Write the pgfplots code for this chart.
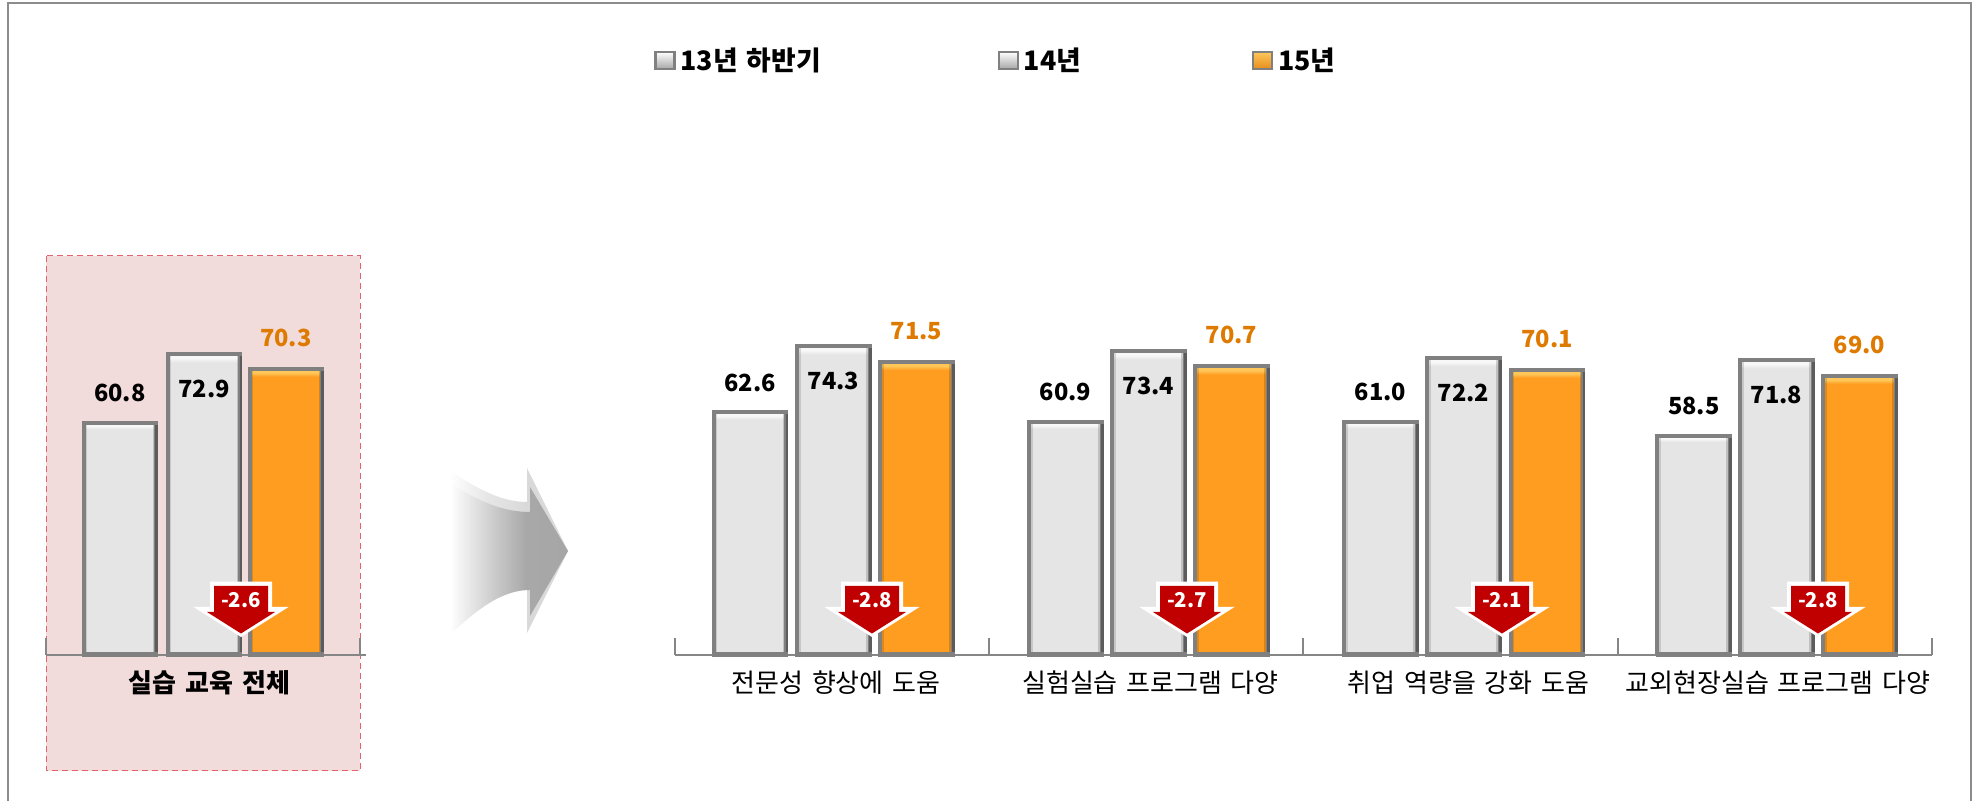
\documentclass[border=0pt]{standalone}
\usepackage{pgfplots}
\pgfplotsset{compat=1.18}
\usepackage{fontspec}
\setmainfont[WordSpace=1.5]{Noto Sans CJK KR}
\definecolor{edge}{HTML}{808080}
\definecolor{axgray}{HTML}{868686}
\definecolor{barlight}{HTML}{E5E5E5}
\definecolor{barlighttop}{HTML}{F8F8F8}
\definecolor{barorange}{HTML}{FF9D21}
\definecolor{barorangetop}{HTML}{FFC75A}
\definecolor{pinkbg}{HTML}{F2DCDB}
\definecolor{pinkedge}{HTML}{E2636E}
\definecolor{labelorange}{HTML}{DF7A00}
\definecolor{arrowred}{HTML}{C00000}
\definecolor{fA}{HTML}{C8C8C8}
\definecolor{fB}{HTML}{A8A8A8}
\definecolor{fC}{HTML}{A6A6A6}
\definecolor{rA}{HTML}{E6E6E6}
\definecolor{rB}{HTML}{D9D9D9}
\pgfdeclareverticalshading{greybar}{100bp}{color(0bp)=(barlight); color(73.6bp)=(barlight); color(74.3bp)=(barlighttop); color(75bp)=(barlighttop); color(100bp)=(barlighttop)}
\pgfdeclareverticalshading{orangebar}{100bp}{color(0bp)=(barorange); color(73.6bp)=(barorange); color(74.3bp)=(barorangetop); color(75bp)=(barorangetop); color(100bp)=(barorangetop)}
\pgfdeclarehorizontalshading{fadein}{100bp}{color(0bp)=(white); color(27bp)=(white); color(46bp)=(fA); color(58bp)=(fB); color(75bp)=(fC); color(100bp)=(fC)}
\pgfdeclarehorizontalshading{faderim}{100bp}{color(0bp)=(white); color(27bp)=(white); color(42bp)=(rA); color(58bp)=(rB); color(100bp)=(rB)}
% one bar: x position, value, shading, label colour, label shift
\newcommand{\onebar}[5]{%
  \addplot[ybar, bar shift=0pt, bar width=36.25pt, draw=edge, line width=2pt, shade, shading=#3,
    nodes near coords, point meta=y,
    nodes near coords style={font=\bfseries\fontsize{11.8}{14}\selectfont, text=#4, anchor=center, yshift=#5,
      /pgf/number format/.cd, fixed, fixed zerofill, precision=1, assume math mode=true}]
    coordinates {(#1,#2)};
  \draw[black, opacity=.13, line width=.8pt] ([xshift=-16.75pt]axis cs:#1,20) -- ([xshift=-16.75pt,yshift=-1pt]axis cs:#1,#2);
  \draw[black, opacity=.16, line width=.8pt] ([xshift=16.75pt]axis cs:#1,20) -- ([xshift=16.75pt,yshift=-1pt]axis cs:#1,#2);
  \draw[black, opacity=.28, line width=1.2pt] ([xshift=18.4pt]axis cs:#1,20) -- ([xshift=18.4pt,yshift=-1pt]axis cs:#1,#2);
  \draw[edge, line width=2.5pt] ([xshift=-19.1pt]axis cs:#1,20) -- ([xshift=19.1pt]axis cs:#1,20);
}
\newcommand{\dropmark}[2]{%
  \fill[white] (#1-31,581.7) -- (#1+31,581.7) -- (#1+31,607) -- (#1+47.5,607) -- (#1,637) -- (#1-47.5,607) -- (#1-31,607) -- cycle;
  \fill[arrowred] (#1-27,586) -- (#1+27,586) -- (#1+27,612) -- (#1+34,612) -- (#1,633.5) -- (#1-34,612) -- (#1-27,612) -- cycle;
  \node[text=white, font=\bfseries\fontsize{10.2}{12}\selectfont, inner sep=0pt] at (#1,600) {#2};
}
\newcommand{\swatch}[3]{%
  \draw[edge, line width=1.4pt, shade, top color=#2, bottom color=#3] (#1,52) rectangle ++(19,17);
}
\pgfplotsset{chartaxis/.style={
  scale only axis, height=277.35pt, ymin=20, ymax=117.55,
  anchor=south west, clip mode=individual,
  axis y line=none, axis x line*=bottom,
  x axis line style={draw=axgray, line width=1pt, -},
  tick align=inside, major tick length=0pt,
  tick style={draw=axgray, line width=1pt},
  extra x tick style={major tick length=8.5pt, xticklabels={}, tick style={draw=axgray, line width=1pt}},
  xticklabel style={anchor=center, yshift=-14pt, font=\fontsize{13}{15}\selectfont, text=black},
}}
\begin{document}
\begin{tikzpicture}
\begin{scope}[x=0.5pt, y=-0.5pt]
\useasboundingbox (0,0) rectangle (1977,801);
% frame
\draw[color=gray!90, line width=1pt] (8,801) -- (8,3) -- (1971,3) -- (1971,801);
% highlighted panel
\draw[fill=pinkbg, draw=pinkedge, line width=0.5pt, densely dashed] (46.3,256) rectangle (360,770.7);
% big arrow
\shade[shading=faderim] (445,467) .. controls (480,492) and (505,502) .. (527,502) -- (527,468) -- (568,551) -- (527,633) -- (527,586) .. controls (505,586) and (480,600) .. (445,636) -- cycle;
\shade[shading=fadein] (445,480) .. controls (480,503) and (505,512) .. (530,512) -- (530,487) -- (568,551) -- (530,616) -- (530,590) .. controls (505,590) and (480,605) .. (445,640) -- cycle;
% legend
\swatch{655.5}{white}{black!35}
\node[anchor=west, inner sep=0pt, font=\bfseries\fontsize{13.4}{15}\selectfont] at (680,60) {13년 하반기};
\swatch{999}{white}{black!35}
\node[anchor=west, inner sep=0pt, font=\bfseries\fontsize{13.4}{15}\selectfont] at (1023.5,60) {14년};
\swatch{1253}{barorangetop}{barorange!90!black}
\node[anchor=west, inner sep=0pt, font=\bfseries\fontsize{13.4}{15}\selectfont] at (1277.6,60) {15년};
\end{scope}
% overall
\begin{axis}[chartaxis, at={(23pt,-327.35pt)}, width=160pt, xmin=46, xmax=366,
  xtick={209.3}, xticklabels={\bfseries 실습 교육 전체}, extra x ticks={46.3,360}]
\onebar{119.8}{60.8}{greybar}{black}{15pt}
\onebar{204}{72.9}{greybar}{black}{-17.5pt}
\onebar{285.8}{70.3}{orangebar}{labelorange}{15.5pt}
\end{axis}
% by item
\begin{axis}[chartaxis, at={(337.35pt,-327.35pt)}, width=628.65pt, xmin=674.7, xmax=1932,
  xtick={836,1150.5,1468.6,1778},
  xticklabels={전문성 향상에 도움,실험실습 프로그램 다양,취업 역량을 강화 도움,교외현장실습 프로그램 다양},
  extra x ticks={674.7,989,1303.3,1617.6,1932}]
\onebar{750}{62.6}{greybar}{black}{15pt}
\onebar{833.5}{74.3}{greybar}{black}{-17.5pt}
\onebar{916.5}{71.5}{orangebar}{labelorange}{15.5pt}
\onebar{1065.5}{60.9}{greybar}{black}{15pt}
\onebar{1148.5}{73.4}{greybar}{black}{-17.5pt}
\onebar{1231.5}{70.7}{orangebar}{labelorange}{15.5pt}
\onebar{1380.5}{61.0}{greybar}{black}{15pt}
\onebar{1463.5}{72.2}{greybar}{black}{-17.5pt}
\onebar{1547}{70.1}{orangebar}{labelorange}{15.5pt}
\onebar{1693.7}{58.5}{greybar}{black}{15pt}
\onebar{1776.5}{71.8}{greybar}{black}{-17.5pt}
\onebar{1859.5}{69.0}{orangebar}{labelorange}{15.5pt}
\end{axis}
% change markers
\begin{scope}[x=0.5pt, y=-0.5pt]
\dropmark{241}{-2.6}
\dropmark{872}{-2.8}
\dropmark{1187}{-2.7}
\dropmark{1502}{-2.1}
\dropmark{1818}{-2.8}
\end{scope}
\end{tikzpicture}
\end{document}
